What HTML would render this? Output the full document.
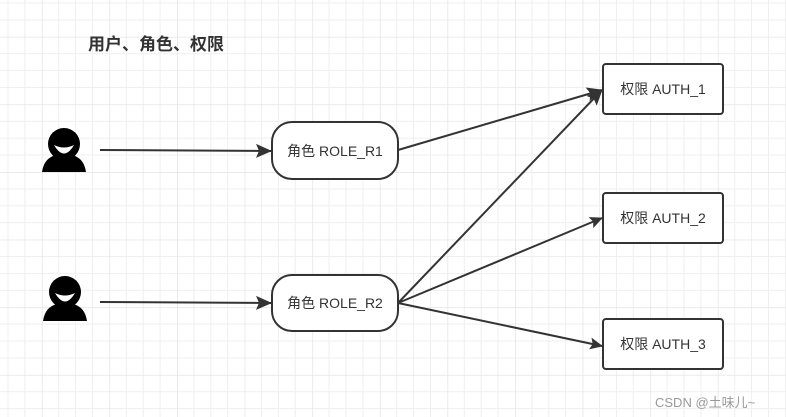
<html><body style="margin:0;background:#fff">
<svg width="786" height="417" xmlns="http://www.w3.org/2000/svg" font-family="Liberation Sans, Noto Sans CJK SC, sans-serif">
<defs>
<pattern id="g" x="41.8" y="36.8" width="67.6" height="67.6" patternUnits="userSpaceOnUse">
<path d="M16.9 0V67.6M33.8 0V67.6M50.7 0V67.6M0 16.9H67.6M0 33.8H67.6M0 50.7H67.6" stroke="#efefef" stroke-width="1" fill="none"/>
<path d="M0 0V67.6M0 0H67.6" stroke="#e4e4e4" stroke-width="1.5" fill="none"/>
</pattern>
<marker id="a" markerWidth="13" markerHeight="13" refX="12" refY="6.5" orient="auto" markerUnits="userSpaceOnUse"><path d="M0 0.5L13 6.5L0 12.5L2.5 6.5Z" fill="#333"/></marker>
<marker id="b" markerWidth="16" markerHeight="16" refX="15" refY="8" orient="auto" markerUnits="userSpaceOnUse"><path d="M0 1L16 8L0 15L3 8Z" fill="#333"/></marker>
</defs>
<rect width="786" height="417" fill="url(#g)"/>
<text x="88" y="50" font-size="17" font-weight="bold" fill="#333">用户、角色、权限</text>
<g fill="#000">
<circle cx="64" cy="144" r="16"/><path d="M42 172Q44 158 56 155H72Q84 158 86 172Z"/>
<path d="M54 145Q64 162 74 145Q64 150 54 145Z" fill="#fff"/>
<circle cx="65" cy="292" r="16"/><path d="M43 321Q45 307 57 304H73Q85 307 87 321Z"/>
<path d="M55 293Q65 310 75 293Q65 298 55 293Z" fill="#fff"/>
</g>
<g stroke="#333" stroke-width="2" fill="none">
<line x1="100" y1="150" x2="271" y2="151" marker-end="url(#b)"/>
<line x1="100" y1="302" x2="271" y2="303" marker-end="url(#b)"/>
<line x1="398" y1="150" x2="602" y2="90" marker-end="url(#b)"/>
<line x1="398" y1="303" x2="602" y2="90" marker-end="url(#b)"/>
<line x1="398" y1="303" x2="602" y2="218" marker-end="url(#a)"/>
<line x1="398" y1="303" x2="602" y2="346" marker-end="url(#a)"/>
</g>
<g stroke="#333" stroke-width="2" fill="#fff">
<rect x="272" y="122" width="126" height="57" rx="20"/>
<rect x="272" y="275" width="126" height="56" rx="20"/>
<rect x="603" y="64" width="120" height="50" rx="3"/>
<rect x="603" y="193" width="120" height="50" rx="3"/>
<rect x="603" y="319" width="120" height="50" rx="3"/>
</g>
<g font-size="14" fill="#333" text-anchor="middle">
<text x="335" y="156">角色 ROLE_R1</text>
<text x="335" y="308">角色 ROLE_R2</text>
<text x="663" y="94">权限 AUTH_1</text>
<text x="663" y="223">权限 AUTH_2</text>
<text x="663" y="349">权限 AUTH_3</text>
</g>
<text x="655" y="407" font-size="13" fill="#999">CSDN @土味儿~</text>
</svg>
</body></html>
